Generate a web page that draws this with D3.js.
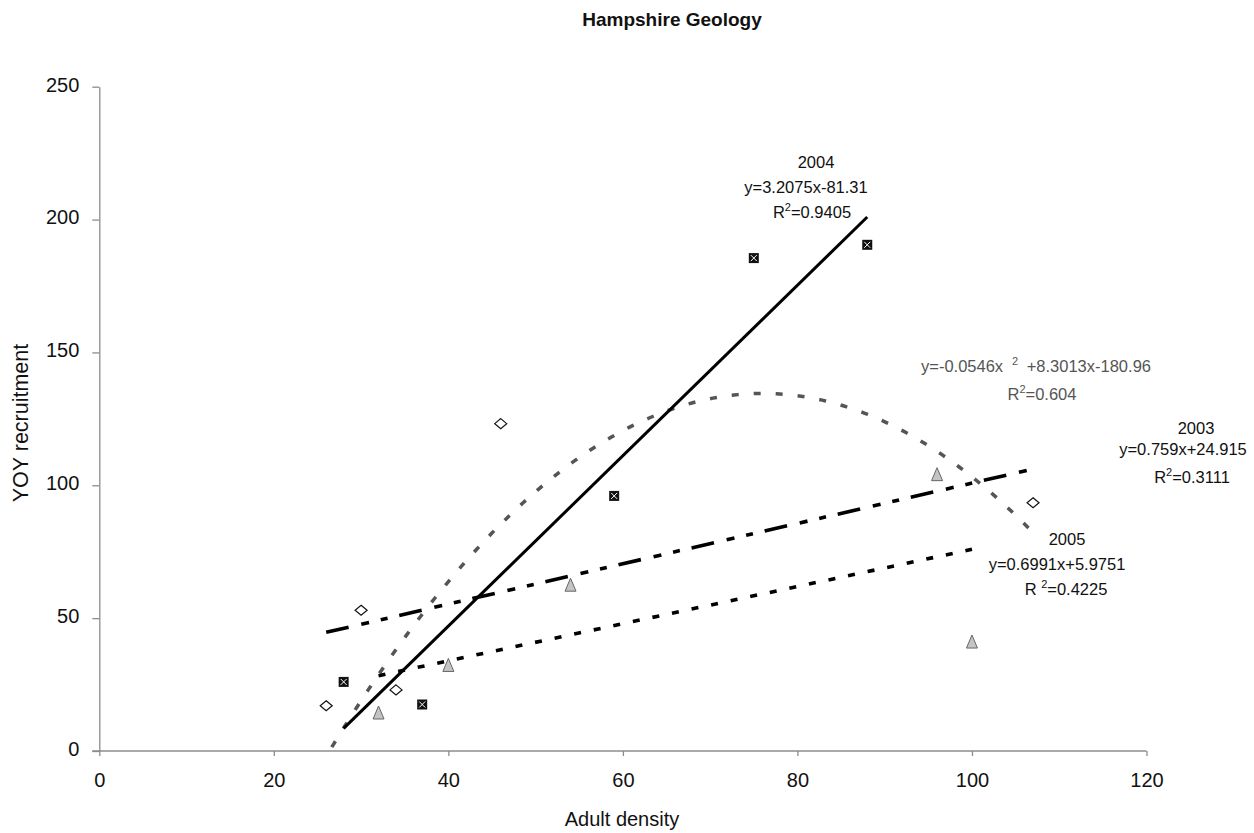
<!DOCTYPE html>
<html>
<head>
<meta charset="utf-8">
<script src="https://cdn.jsdelivr.net/npm/d3@7"></script>
<style>
  html, body { margin: 0; padding: 0; background: #fff; }
  svg { display: block; font-family: "Liberation Sans", Arial, sans-serif; }
</style>
</head>
<body>
<svg id="chart" width="1254" height="833"></svg>
<script>
// ---- Data ----
const xTicks = [0, 20, 40, 60, 80, 100, 120];
const yTicks = [0, 50, 100, 150, 200, 250];

const x2004 = [28, 37, 59, 75, 88];
const y2004 = [26, 17.5, 96, 185.5, 190.5];

const x2003 = [26, 30, 34, 46, 107];
const y2003 = [17, 53, 23, 123.2, 93.4];

const x2005 = [32, 40, 54, 96, 100];
const y2005 = [14.3, 32.2, 62.4, 104, 41];

// trendline coefficients (as printed on the chart)
const fit2004 = [3.2075, -81.31];          // linear: slope, intercept
const fit2003 = [0.759, 24.915];
const fit2005 = [0.6991, 5.9751];
const fit2003Poly = [-0.0546, 8.3013, -180.96]; // a x^2 + b x + c

// ---- Layout ----
const svg = d3.select("#chart");
const x = d3.scaleLinear().domain([0, 120]).range([99.3, 1146.5]);
const y = d3.scaleLinear().domain([0, 250]).range([751, 86.7]);

// title
svg.append("text").attr("x", 672).attr("y", 26).attr("text-anchor", "middle")
  .attr("font-size", 19).attr("font-weight", "bold").attr("fill", "#111")
  .text("Hampshire Geology");

// axes
const axisColor = "#8c8c8c";
const gx = svg.append("g").attr("transform", `translate(0,${y(0)})`)
  .call(d3.axisBottom(x).tickValues(xTicks).tickSize(5).tickSizeOuter(0).tickPadding(17));
const gy = svg.append("g").attr("transform", `translate(${x(0)},0)`)
  .call(d3.axisLeft(y).tickValues(yTicks).tickSize(7).tickSizeOuter(0).tickPadding(13));
[gx, gy].forEach(g => {
  g.select(".domain").attr("stroke", axisColor).attr("stroke-width", 1.3);
  g.selectAll(".tick line").attr("stroke", axisColor).attr("stroke-width", 1.3);
  g.selectAll(".tick text").attr("font-size", 20).attr("fill", "#111")
    .attr("font-family", "Liberation Sans, Arial, sans-serif");
});
gy.selectAll(".tick text").attr("dy", "0.22em");
// extend x-axis domain left to meet the y tick at 0
gx.select(".domain").attr("d", `M${x(0) - 7},0H${x(120)}`);

// axis titles
svg.append("text").attr("x", 622).attr("y", 826).attr("text-anchor", "middle")
  .attr("font-size", 20).attr("fill", "#111").text("Adult density");
svg.append("text").attr("transform", `translate(28,423) rotate(-90)`)
  .attr("text-anchor", "middle").attr("font-size", 21.5).attr("fill", "#111")
  .text("YOY recruitment");

// clip
svg.append("clipPath").attr("id", "plotclip").append("rect")
  .attr("x", x(0)).attr("y", y(250)).attr("width", x(120) - x(0)).attr("height", y(0) - y(250));
const plot = svg.append("g").attr("clip-path", "url(#plotclip)");

const line = d3.line().x(d => x(d[0])).y(d => y(d[1]));
function linPts(fit, x0, x1) { return [[x0, fit[0] * x0 + fit[1]], [x1, fit[0] * x1 + fit[1]]]; }
function polyPts(c, x0, x1) {
  const pts = [];
  for (let i = 0; i <= 200; i++) { const xv = x0 + (x1 - x0) * i / 200; pts.push([xv, c[0] * xv * xv + c[1] * xv + c[2]]); }
  return pts;
}

// quadratic (gray dotted)
plot.append("path").attr("d", line(polyPts(fit2003Poly, 26.4, 107)))
  .attr("fill", "none").attr("stroke", "#555").attr("stroke-width", 3.5)
  .attr("stroke-dasharray", "7,15").attr("stroke-dashoffset", -4);
// 2003 linear (long dash-dot-dot)
plot.append("path").attr("d", line(linPts(fit2003, 26, 107)))
  .attr("fill", "none").attr("stroke", "#000").attr("stroke-width", 3.6)
  .attr("stroke-dasharray", "23,13,8,12,7,12");
// 2005 linear (short dash)
plot.append("path").attr("d", line(linPts(fit2005, 32, 100)))
  .attr("fill", "none").attr("stroke", "#000").attr("stroke-width", 3.6)
  .attr("stroke-dasharray", "7,13");
// 2004 linear (solid)
plot.append("path").attr("d", line(linPts(fit2004, 28, 88)))
  .attr("fill", "none").attr("stroke", "#000").attr("stroke-width", 3);

// markers
const sq = svg.append("g");
x2004.forEach((xv, i) => {
  const cx = x(xv), cy = y(y2004[i]);
  sq.append("rect").attr("x", cx - 5).attr("y", cy - 5).attr("width", 10).attr("height", 10).attr("fill", "#111");
  sq.append("path").attr("d", `M${cx - 3},${cy - 3}L${cx + 3},${cy + 3}M${cx + 3},${cy - 3}L${cx - 3},${cy + 3}`)
    .attr("stroke", "#fff").attr("stroke-width", 1);
});
const dm = svg.append("g");
x2003.forEach((xv, i) => {
  const cx = x(xv), cy = y(y2003[i]);
  dm.append("path").attr("d", `M${cx},${cy - 5}L${cx + 6},${cy}L${cx},${cy + 5}L${cx - 6},${cy}Z`)
    .attr("fill", "#fff").attr("stroke", "#111").attr("stroke-width", 1.2);
});
const tr = svg.append("g");
x2005.forEach((xv, i) => {
  const cx = x(xv), cy = y(y2005[i]);
  tr.append("path").attr("d", `M${cx},${cy - 7}L${cx + 5.5},${cy + 6}L${cx - 5.5},${cy + 6}Z`)
    .attr("fill", "#c4c4c4").attr("stroke", "#666").attr("stroke-width", 1);
});

// annotations
const FS = 16.5;
function label(txt, cx, by, color, anchor) {
  return svg.append("text").attr("x", cx).attr("y", by).attr("text-anchor", anchor || "middle")
    .attr("font-size", FS).attr("fill", color || "#111").text(txt);
}
function rlabel(val, cx, by, color, gap) {
  const t = svg.append("text").attr("x", cx).attr("y", by).attr("text-anchor", "middle")
    .attr("font-size", FS).attr("fill", color || "#111");
  t.append("tspan").text("R" + (gap ? " " : ""));
  t.append("tspan").attr("font-size", 11).attr("dy", -7).text("2");
  t.append("tspan").attr("dy", 7).text("=" + val);
}

label("2004", 816, 168);
label("y=3.2075x-81.31", 806, 193);
rlabel("0.9405", 812, 218);

label("y=-0.0546x", 921, 372, "#555", "start");
svg.append("text").attr("x", 1012).attr("y", 365).attr("font-size", 11).attr("fill", "#555").text("2");
label("+8.3013x-180.96", 1151, 372, "#555", "end");
rlabel("0.604", 1042, 400, "#555");

label("2003", 1196, 434);
label("y=0.759x+24.915", 1183, 455);
rlabel("0.3111", 1192, 483);

label("2005", 1067, 545);
label("y=0.6991x+5.9751", 1057, 570);
rlabel("0.4225", 1066, 595, "#111", true);
</script>
</body>
</html>
